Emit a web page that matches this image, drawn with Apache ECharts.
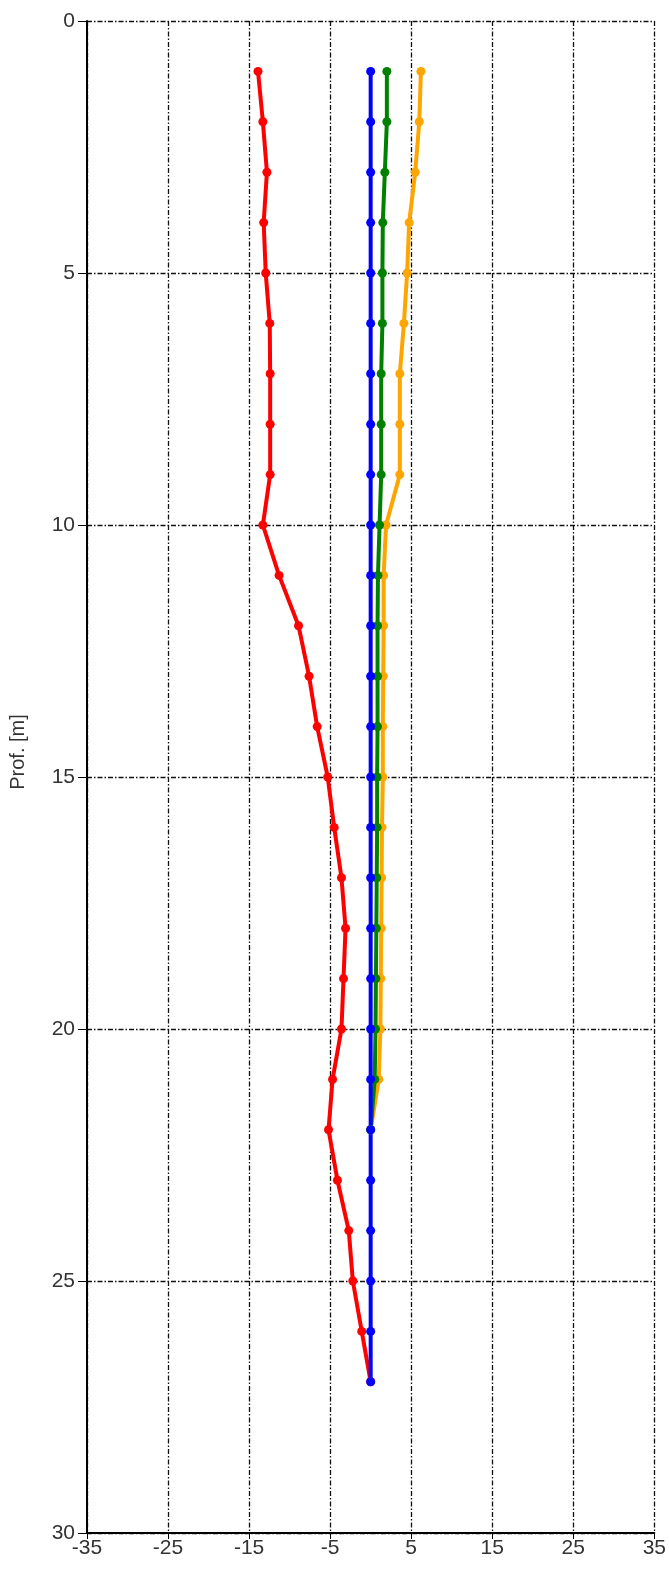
<!DOCTYPE html>
<html>
<head>
<meta charset="utf-8">
<script src="https://cdn.jsdelivr.net/npm/echarts@6/dist/echarts.min.js"></script>
<style>
html,body{margin:0;padding:0;background:#fff;}
#chart{width:669px;height:1572px;}
</style>
</head>
<body>
<div id="chart"></div>
<script>
const depths = [1,2,3,4,5,6,7,8,9,10,11,12,13,14,15,16,17,18,19,20,21,22,23,24,25,26,27];
const redValues = [-13.9,-13.3,-12.8,-13.2,-12.95,-12.45,-12.4,-12.4,-12.4,-13.3,-11.3,-8.9,-7.6,-6.6,-5.3,-4.5,-3.6,-3.1,-3.35,-3.6,-4.7,-5.2,-4.1,-2.7,-2.2,-1.1,0];
const orangeValues = [6.2,6.0,5.5,4.75,4.5,4.1,3.6,3.6,3.6,1.9,1.6,1.6,1.55,1.5,1.5,1.4,1.35,1.3,1.25,1.2,1.0,0];
const greenValues = [2.0,2.0,1.75,1.5,1.45,1.45,1.3,1.3,1.3,1.1,0.9,0.85,0.85,0.85,0.8,0.8,0.75,0.7,0.65,0.6,0.5,0];
const blueValues = [0,0,0,0,0,0,0,0,0,0,0,0,0,0,0,0,0,0,0,0,0,0,0,0,0,0,0];
const xTicks = [-35,-25,-15,-5,5,15,25,35];
const yTicks = [0,5,10,15,20,25,30];
const yAxisTitle = 'Prof. [m]';

function pairs(vals){ return vals.map((v,i)=>[v, depths[i]]); }
function mk(name, vals, color){
  return {
    name: name, type: 'line', data: pairs(vals),
    symbol: 'circle', symbolSize: 9, showSymbol: true,
    lineStyle: {color: color, width: 4},
    itemStyle: {color: color},
    animation: false
  };
}
const gridDash = {color:'#111', width:1.3, type:[5,2,1.5,2]};
const labelFont = 'Liberation Sans';
const chart = echarts.init(document.getElementById('chart'), null, {renderer:'canvas'});
chart.setOption({
  backgroundColor:'#fff',
  animation:false,
  grid:{left:84, top:21, right:13, bottom:39, containLabel:false},
  xAxis:{
    type:'value', min:xTicks[0], max:xTicks[xTicks.length-1], interval:10,
    axisLine:{show:true, onZero:false, lineStyle:{color:'#000', width:2}},
    axisTick:{show:true, length:6, lineStyle:{color:'#000', width:1}},
    axisLabel:{color:'#333', fontFamily:labelFont, fontSize:21, margin:5},
    splitLine:{show:true, lineStyle:gridDash}
  },
  yAxis:{
    type:'value', inverse:true, min:yTicks[0], max:yTicks[yTicks.length-1], interval:5,
    name:yAxisTitle, nameLocation:'middle', nameGap:59, nameRotate:90,
    nameTextStyle:{color:'#333', fontFamily:labelFont, fontSize:20, padding:[0,0,0,50]},
    axisLine:{show:true, onZero:false, lineStyle:{color:'#000', width:2}},
    axisTick:{show:true, length:9, lineStyle:{color:'#000', width:1}},
    axisLabel:{color:'#333', fontFamily:labelFont, fontSize:21, margin:12},
    splitLine:{show:true, lineStyle:gridDash}
  },
  series:[
    mk('orange', orangeValues, '#ffa500'),
    mk('green', greenValues, '#008000'),
    mk('red', redValues, '#ff0000'),
    mk('blue', blueValues, '#0000ff')
  ]
});
</script>
</body>
</html>
